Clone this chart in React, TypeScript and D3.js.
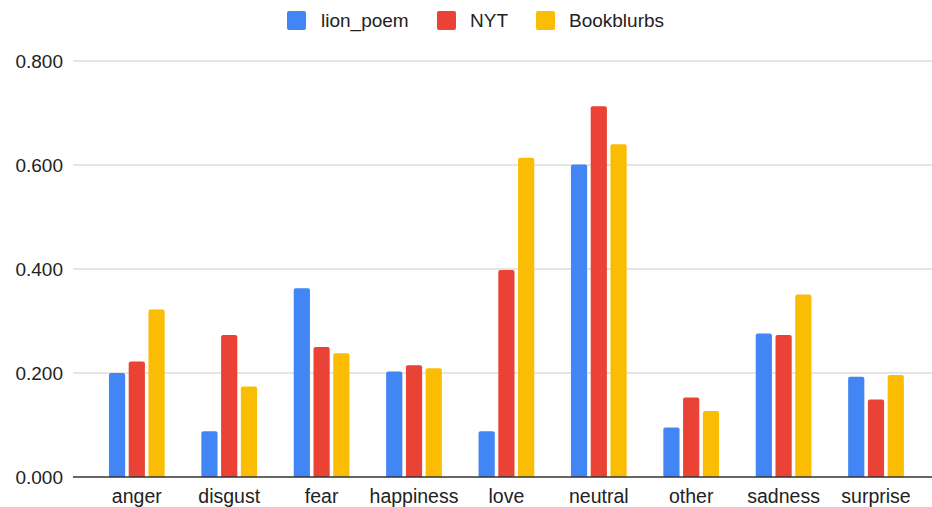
import React from "react";
import * as d3 from "d3";

const categories = ["anger", "disgust", "fear", "happiness", "love", "neutral", "other", "sadness", "surprise"];
const seriesNames = ["lion_poem", "NYT", "Bookblurbs"];
const lionPoem = [0.2, 0.088, 0.363, 0.203, 0.088, 0.601, 0.095, 0.276, 0.193];
const nyt = [0.222, 0.273, 0.25, 0.215, 0.398, 0.713, 0.153, 0.273, 0.149];
const bookblurbs = [0.322, 0.174, 0.238, 0.209, 0.614, 0.64, 0.127, 0.351, 0.196];
const yTicks = [0, 0.2, 0.4, 0.6, 0.8];
const colors = ["#4285F4", "#EA4335", "#FBBC04"];

const W = 932;
const H = 507;
const FONT = "'Liberation Sans', Arial, Helvetica, sans-serif";

function topRoundedRect(x: number, y: number, w: number, h: number, r: number) {
  const rr = Math.min(r, w / 2, h);
  return `M${x},${y + h}V${y + rr}Q${x},${y} ${x + rr},${y}H${x + w - rr}Q${x + w},${y} ${x + w},${y + rr}V${y + h}Z`;
}

export default function App() {
  const values = [lionPoem, nyt, bookblurbs];
  const y = d3.scaleLinear().domain([0, 0.8]).range([477, 61]);
  const x0 = d3
    .scaleBand<string>()
    .domain(categories)
    .range([90.6, 922.2])
    .paddingInner(0.397)
    .paddingOuter(0.1985);
  const x1 = d3
    .scaleBand<string>()
    .domain(seriesNames)
    .range([0, x0.bandwidth()])
    .paddingInner(0.18);
  const fmt = d3.format(".3f");

  const legendItems = [
    { name: "lion_poem", sq: 287, tx: 321 },
    { name: "NYT", sq: 437, tx: 470 },
    { name: "Bookblurbs", sq: 536, tx: 569 },
  ];

  return (
    <svg
      width={W}
      height={H}
      style={{ position: "absolute", left: 0, top: 0, background: "#fff" }}
      fontFamily={FONT}
    >
      <rect x={0} y={0} width={W} height={H} fill="#fff" />
      {/* legend */}
      {legendItems.map((l, i) => (
        <g key={l.name}>
          <rect x={l.sq} y={11} width={19} height={19} rx={2} fill={colors[i]} />
          <text x={l.tx} y={27} fontSize={19} fill="#222">
            {l.name}
          </text>
        </g>
      ))}
      {/* gridlines */}
      {yTicks.map((t) => (
        <g key={t}>
          {t !== 0 && (
            <line x1={73} x2={932} y1={y(t)} y2={y(t)} stroke="#cccccc" strokeWidth={1} />
          )}
          <text x={63} y={y(t)} dy="0.35em" textAnchor="end" fontSize={19} fill="#222">
            {fmt(t)}
          </text>
        </g>
      ))}
      {/* bars */}
      {categories.map((c, ci) => (
        <g key={c} transform={`translate(${x0(c)},0)`}>
          {seriesNames.map((s, si) => {
            const v = values[si][ci];
            const top = y(v);
            return (
              <path
                key={s}
                d={topRoundedRect(x1(s)!, top, x1.bandwidth(), y(0) - top, 2)}
                fill={colors[si]}
              />
            );
          })}
        </g>
      ))}
      {/* baseline */}
      <line x1={73} x2={932} y1={y(0)} y2={y(0)} stroke="#333" strokeWidth={1.5} />
      {/* x labels */}
      {categories.map((c) => (
        <text
          key={c}
          x={x0(c)! + x0.bandwidth() / 2}
          y={503}
          textAnchor="middle"
          fontSize={19.5}
          fill="#222"
        >
          {c}
        </text>
      ))}
    </svg>
  );
}
